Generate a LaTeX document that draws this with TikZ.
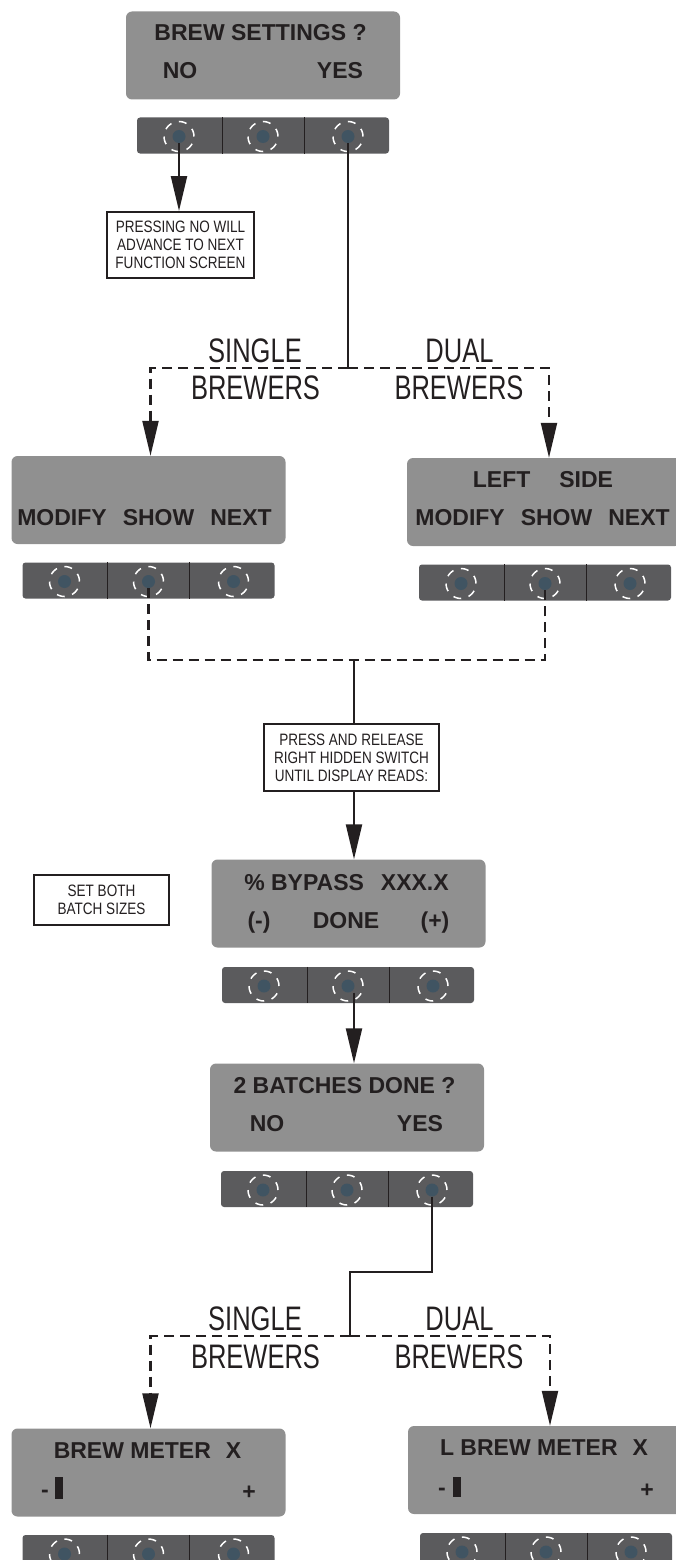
\documentclass[tikz,border=0pt]{standalone}
\usepackage{fontspec}
\setmainfont{Liberation Sans}
\newfontfamily\notefont[FakeStretch=0.82]{Liberation Sans}
\newfontfamily\brewfont[FakeStretch=0.75]{Liberation Sans}
\usetikzlibrary{arrows.meta}
\definecolor{lcdgray}{HTML}{909090}
\definecolor{padgray}{HTML}{5B5B5D}
\definecolor{keyblue}{HTML}{405462}
\definecolor{inkblack}{HTML}{231F20}
\begin{document}
\begin{tikzpicture}[x=1pt, y=-1pt,
  lcd/.style={fill=lcdgray, rounded corners=6pt, minimum width=274pt, minimum height=88pt, inner sep=0pt},
  lcdtext/.style={font=\fontsize{23}{23}\selectfont\bfseries, text=inkblack, anchor=base, inner sep=0pt},
  pad/.style={fill=padgray, rounded corners=3pt, minimum width=252pt, minimum height=36pt, inner sep=0pt},
  key/.style={circle, fill=keyblue, minimum size=13pt, inner sep=0pt},
  ring/.style={draw=white, line width=1.5pt, dash pattern=on 8pt off 7.7pt},
  note/.style={draw=inkblack, line width=2pt, text=inkblack, font=\notefont\fontsize{16.5}{18}\selectfont, align=center, inner sep=0pt},
  brew/.style={font=\brewfont\fontsize{34}{34}\selectfont, text=inkblack, anchor=base, inner sep=0pt},
  link/.style={draw=inkblack, line width=2.2pt},
  dashlink/.style={link, dash pattern=on 10pt off 6pt},
  tip/.style={-{Triangle[length=35pt,width=16pt]}}]
\useasboundingbox (0,0) rectangle (676,1560);

% displays
\node[lcd] (scrA) at (263,55.5) {};
\node[lcdtext] (scrA-top) at (260.5,41) {BREW SETTINGS ?};
\node[lcdtext] (scrA-no) at (180,79) {NO};
\node[lcdtext] (scrA-yes) at (340,79) {YES};

\node[lcd] (scrB) at (148.5,500) {};
\node[lcdtext] (scrB-bot) at (144.5,525) {MODIFY\hspace{16pt}SHOW\hspace{16pt}NEXT};

\node[lcd] (scrC) at (544,502) {};
\node[lcdtext] (scrC-top) at (543,487) {LEFT\hspace{29pt}SIDE};
\node[lcdtext] (scrC-bot) at (542.5,525) {MODIFY\hspace{16pt}SHOW\hspace{16pt}NEXT};

\node[lcd] (scrD) at (348.5,903.5) {};
\node[lcdtext] (scrD-top) at (346.5,890) {\% BYPASS\hspace{17pt}XXX.X};
\node[lcdtext] (scrD-minus) at (259,928) {(-)};
\node[lcdtext] (scrD-done) at (346,928) {DONE};
\node[lcdtext] (scrD-plus) at (435,928) {(+)};

\node[lcd] (scrE) at (347,1107.5) {};
\node[lcdtext] (scrE-top) at (344.5,1093) {2 BATCHES DONE ?};
\node[lcdtext] (scrE-no) at (267,1131) {NO};
\node[lcdtext] (scrE-yes) at (420,1131) {YES};

\node[lcd] (scrF) at (148.5,1472.5) {};
\node[lcdtext] (scrF-top) at (147.5,1458) {BREW METER\hspace{15pt}X};
\node[lcdtext] (scrF-minus) at (45,1497) {-};
\node[fill=inkblack, minimum width=8pt, minimum height=22pt, inner sep=0pt] (scrF-bar) at (59,1488) {};
\node[lcdtext] (scrF-plus) at (249,1499) {+};

\node[lcd] (scrG) at (545,1470) {};
\node[lcdtext] (scrG-top) at (544,1455) {L BREW METER\hspace{15pt}X};
\node[lcdtext] (scrG-minus) at (442,1495) {-};
\node[fill=inkblack, minimum width=8pt, minimum height=20pt, inner sep=0pt] (scrG-bar) at (457,1487) {};
\node[lcdtext] (scrG-plus) at (647,1497) {+};

% keypads
\foreach \pad/\px/\py in {padA/263/135.5, padB/148.5/580.5, padC/545/582.5,
    padD/348/985, padE/347/1189, padF/148.5/1553, padG/546/1551} {
  \node[pad] (\pad) at (\px,\py) {};
  \draw[inkblack, line width=1pt] ([xshift=-41pt]\pad.north) -- ([xshift=-41pt]\pad.south)
    ([xshift=41pt]\pad.north) -- ([xshift=41pt]\pad.south);
  \foreach \k/\dx in {1/-84,2/0,3/85} {
    \node[key] (\pad-\k) at (\px+\dx,\py+1) {};
    \draw[ring] (\pad-\k.center) circle (15pt);
  }
}

% notes
\node[note, minimum width=147pt, minimum height=66pt] (noteA) at (180.5,245) {PRESSING NO WILL\\ADVANCE TO NEXT\\FUNCTION SCREEN};
\node[note, minimum width=175pt, minimum height=67pt] (noteB) at (351.5,757.5) {PRESS AND RELEASE\\RIGHT HIDDEN SWITCH\\UNTIL DISPLAY READS:};
\node[note, minimum width=135pt, minimum height=50pt] (noteC) at (101.5,900) {SET BOTH\\BATCH SIZES};

% brewer labels
\node[brew] (singleA) at (255,362) {SINGLE};
\node[brew] (singleA-b) at (255.5,399) {BREWERS};
\node[brew] (dualA) at (459.5,362) {DUAL};
\node[brew] (dualA-b) at (459,399) {BREWERS};
\node[brew] (singleB) at (255,1330) {SINGLE};
\node[brew] (singleB-b) at (255.5,1368) {BREWERS};
\node[brew] (dualB) at (459.5,1330) {DUAL};
\node[brew] (dualB-b) at (459,1368) {BREWERS};

% connectors
\coordinate (splitA) at (padA-3.center |- 0,368);
\coordinate (mergeA) at (354,660);
\coordinate (splitB) at (350,1336);
\draw[link, tip] (padA-1.south) -- (padA-1.south |- noteA.north);
\draw[link] (padA-3.south) -- (splitA);
\draw[dashlink, tip] (splitA) -| ([xshift=2pt]scrB.north);
\draw[dashlink, tip] (splitA) -| ([xshift=5pt]scrC.north);
\draw[dashlink] (padB-2.south) |- (mergeA) -| (padC-2.south);
\draw[link] (mergeA) -- (mergeA |- noteB.north);
\draw[link, tip] (mergeA |- noteB.south) -- (mergeA |- scrD.north);
\draw[link, tip] (mergeA |- padD-2.south) -- (mergeA |- scrE.north);
\draw[link] (padE-3.south) -- ++(0,75.5) -| (splitB);
\draw[dashlink, tip] (splitB) -| ([xshift=2pt]scrF.north);
\draw[dashlink, tip] (splitB) -| ([xshift=5pt]scrG.north);
\end{tikzpicture}
\end{document}
